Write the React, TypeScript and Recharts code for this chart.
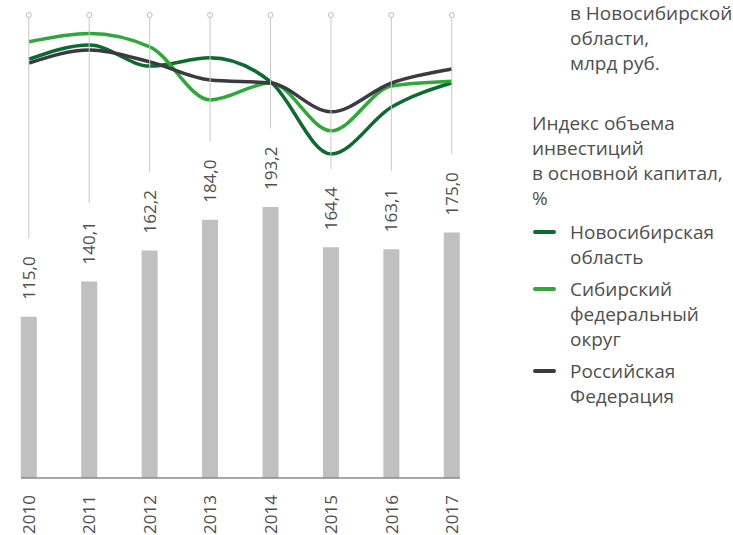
import React from "react";
import { ComposedChart, Bar, Line, XAxis, YAxis } from "recharts";

const years = [2010, 2011, 2012, 2013, 2014, 2015, 2016, 2017];
const investment = [115.0, 140.1, 162.2, 184.0, 193.2, 164.4, 163.1, 175.0];
const novosibirskIndex = [107.7, 112.5, 105.4, 108.2, 100.1, 75.8, 91.6, 99.8];
const siberiaIndex = [113.6, 116.4, 111.9, 94.0, 99.7, 83.6, 98.7, 100.3];
const russiaIndex = [106.4, 110.8, 106.8, 100.7, 99.7, 90.0, 99.7, 104.4];

const barTitle = ["в Новосибирской", "области,", "млрд руб."];
const lineTitle = ["Индекс объема", "инвестиций", "в основной капитал,", "%"];
const seriesNames = [
  ["Новосибирская", "область"],
  ["Сибирский", "федеральный", "округ"],
  ["Российская", "Федерация"],
];
const seriesKeys = ["nsk", "sfo", "rf"];
const seriesColors = ["#0c6b30", "#2ea838", "#3a3a40"];

const data = years.map((year, i) => ({
  year,
  inv: investment[i],
  nsk: novosibirskIndex[i],
  sfo: siberiaIndex[i],
  rf: russiaIndex[i],
}));

const FONT = "'Open Sans', sans-serif";
const TEXT = "#4f4f4f";
const FS = 17;
const LFS = 19;

const fmt = (v: number) => v.toFixed(1).replace(".", ",");

const estWidth = (s: string) => {
  let w = 0;
  for (const c of s) w += c === "," ? 0.26 : 0.572;
  return w * FS;
};

const BarLabel = (props: any) => {
  const { x, y, width, value } = props;
  const cx = x + width / 2;
  const txt = fmt(Number(value));
  const start = y - 17;
  const top = start - estWidth(txt);
  const lineEnd = top - 18;
  return (
    <g>
      <line x1={cx} x2={cx} y1={17.5} y2={lineEnd} stroke="#c8c8c8" strokeWidth={1} />
      <circle cx={cx} cy={15} r={2.5} fill="#fff" stroke="#bdbdbd" strokeWidth={1} />
      <text
        transform={`translate(${cx + 6},${start}) rotate(-90)`}
        textAnchor="start"
        fontFamily={FONT}
        fontSize={FS}
        fill={TEXT}
      >
        {txt}
      </text>
    </g>
  );
};

const YearTick = (props: any) => {
  const { x, y, payload } = props;
  return (
    <text
      transform={`translate(${x + 6},${y}) rotate(-90)`}
      textAnchor="end"
      fontFamily={FONT}
      fontSize={FS}
      fill={TEXT}
    >
      {payload.value}
    </text>
  );
};

const textStyle: React.CSSProperties = {
  fontFamily: FONT,
  fontSize: LFS,
  color: TEXT,
  lineHeight: "25px",
  whiteSpace: "nowrap",
};

export default function App() {
  return (
    <div style={{ position: "absolute", left: 0, top: 0, width: 733, height: 535, overflow: "hidden", background: "#fff" }}>
      <ComposedChart
        width={733}
        height={535}
        data={data}
        margin={{ top: 15, right: 273, bottom: 0, left: 21 }}
      >
        <XAxis
          dataKey="year"
          type="number"
          domain={[2010, 2017]}
          ticks={years}
          padding={{ left: 8, right: 8 }}
          height={57}
          tickSize={0}
          tickMargin={17}
          tickLine={false}
          axisLine={{ stroke: "#8a8a8a", strokeWidth: 1.5 }}
          tick={<YearTick />}
          interval={0}
        />
        <YAxis yAxisId="bar" hide domain={[0, 330]} />
        <YAxis yAxisId="line" hide domain={[-33.3, 122.6]} />
        <Bar
          yAxisId="bar"
          dataKey="inv"
          barSize={16}
          fill="#bfc0bf"
          isAnimationActive={false}
          label={<BarLabel />}
        />
        {seriesKeys.map((k, i) => (
          <Line
            key={k}
            yAxisId="line"
            type="monotone"
            dataKey={k}
            stroke={seriesColors[i]}
            strokeWidth={3.5}
            dot={false}
            activeDot={false}
            isAnimationActive={false}
          />
        ))}
      </ComposedChart>
      <div style={{ ...textStyle, position: "absolute", left: 570, top: 1 }}>
        {barTitle.map((t) => (
          <div key={t}>{t}</div>
        ))}
      </div>
      <div style={{ ...textStyle, position: "absolute", left: 532, top: 111 }}>
        {lineTitle.map((t) => (
          <div key={t}>{t}</div>
        ))}
      </div>
      <div style={{ position: "absolute", left: 532, top: 220 }}>
        {seriesNames.map((lines, i) => (
          <div key={i} style={{ position: "relative", marginBottom: 7 }}>
            <div
              style={{
                position: "absolute",
                left: 1,
                top: 10,
                width: 23,
                height: 4,
                borderRadius: 2,
                background: seriesColors[i],
              }}
            />
            <div style={{ ...textStyle, marginLeft: 38 }}>
              {lines.map((t) => (
                <div key={t}>{t}</div>
              ))}
            </div>
          </div>
        ))}
      </div>
    </div>
  );
}
